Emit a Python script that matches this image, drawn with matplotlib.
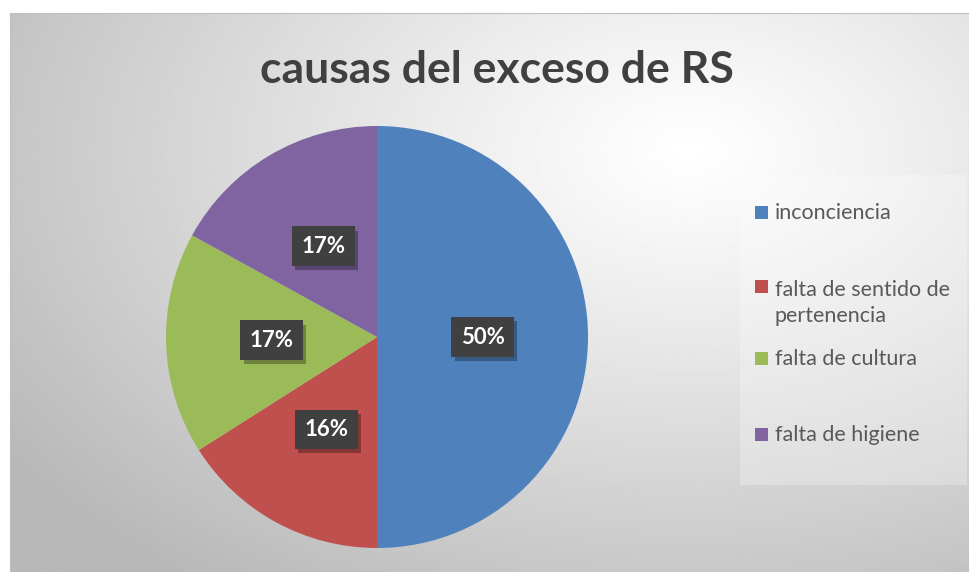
import numpy as np
import matplotlib
matplotlib.use("Agg")
import matplotlib.pyplot as plt
import matplotlib.patheffects as pe
from matplotlib.patches import Rectangle

# datos del grafico
causas = ["inconciencia", "falta de sentido de\npertenencia", "falta de cultura", "falta de higiene"]
porcentajes = [50, 16, 17, 17]
colores = ["#4F81BD", "#C0504D", "#9BBB59", "#8064A2"]
titulo = "causas del exceso de RS"

W, H = 969, 572
fig = plt.figure(figsize=(W / 100, H / 100), dpi=100)
fig.patch.set_facecolor("white")

# fondo con degradado radial (estilo Excel)
bg = fig.add_axes([10 / W, 0, (W - 10) / W, (H - 13) / H])
xx, yy = np.meshgrid(np.linspace(10, W, 400), np.linspace(13, H, 300))
r = np.sqrt(((xx - 690) / 700) ** 2 + ((yy - 150) / 450) ** 2)
gris = 1.0 - 0.23 * np.clip(r, 0, 1.2) ** 1.1
bg.imshow(gris, cmap="gray", vmin=0, vmax=1, aspect="auto",
          extent=[0, 1, 0, 1], interpolation="bilinear")
bg.set_xticks([])
bg.set_yticks([])
for s in bg.spines.values():
    s.set_color("#bfbfbf")

# zona de la leyenda algo mas clara
fig.patches.append(Rectangle((740 / W, 1 - 485 / H), 227 / W, 310 / H,
                             transform=fig.transFigure, facecolor="white",
                             alpha=0.25, edgecolor="none"))

fig.text(497 / W, 1 - 70 / H, titulo, ha="center", va="center",
         fontsize=32, fontweight="bold", color="#404040", family="Lato")

# pastel
cx, cy, rad = 377, 337, 211
ax = fig.add_axes([(cx - rad) / W, (H - cy - rad) / H, 2 * rad / W, 2 * rad / H])
wedges, _, autotexts = ax.pie(porcentajes, colors=colores, startangle=90,
                              counterclock=False, autopct="%1.0f%%",
                              pctdistance=0.5, wedgeprops=dict(linewidth=0))
ax.set_xlim(-1, 1)
ax.set_ylim(-1, 1)
ax.set_aspect("equal")

for t in autotexts:
    t.set_fontsize(16)
    t.set_fontweight("bold")
    t.set_color("white")
    t.set_family("Lato")
    t.set_zorder(5)
    t.set_bbox(dict(boxstyle="square,pad=0.42", facecolor="#404040", edgecolor="none"))
    t.get_bbox_patch().set_path_effects([
        pe.SimplePatchShadow(offset=(2.5, -3), shadow_rgbFace="black", alpha=0.3),
        pe.Normal()])

# leyenda manual
ys = [212, 286, 358, 434]
for causa, color, y in zip(causas, colores, ys):
    fig.patches.append(Rectangle((755 / W, 1 - (y + 7) / H), 13 / W, 13 / H,
                                 transform=fig.transFigure, facecolor=color,
                                 edgecolor="none"))
    n = causa.count("\n")
    fig.text(775 / W, 1 - (y + 7 + 29 * n) / H, causa, ha="left", va="baseline",
             fontsize=15.5, color="#595959", family="Lato", linespacing=1.35)

fig.savefig("out.png", dpi=100)
